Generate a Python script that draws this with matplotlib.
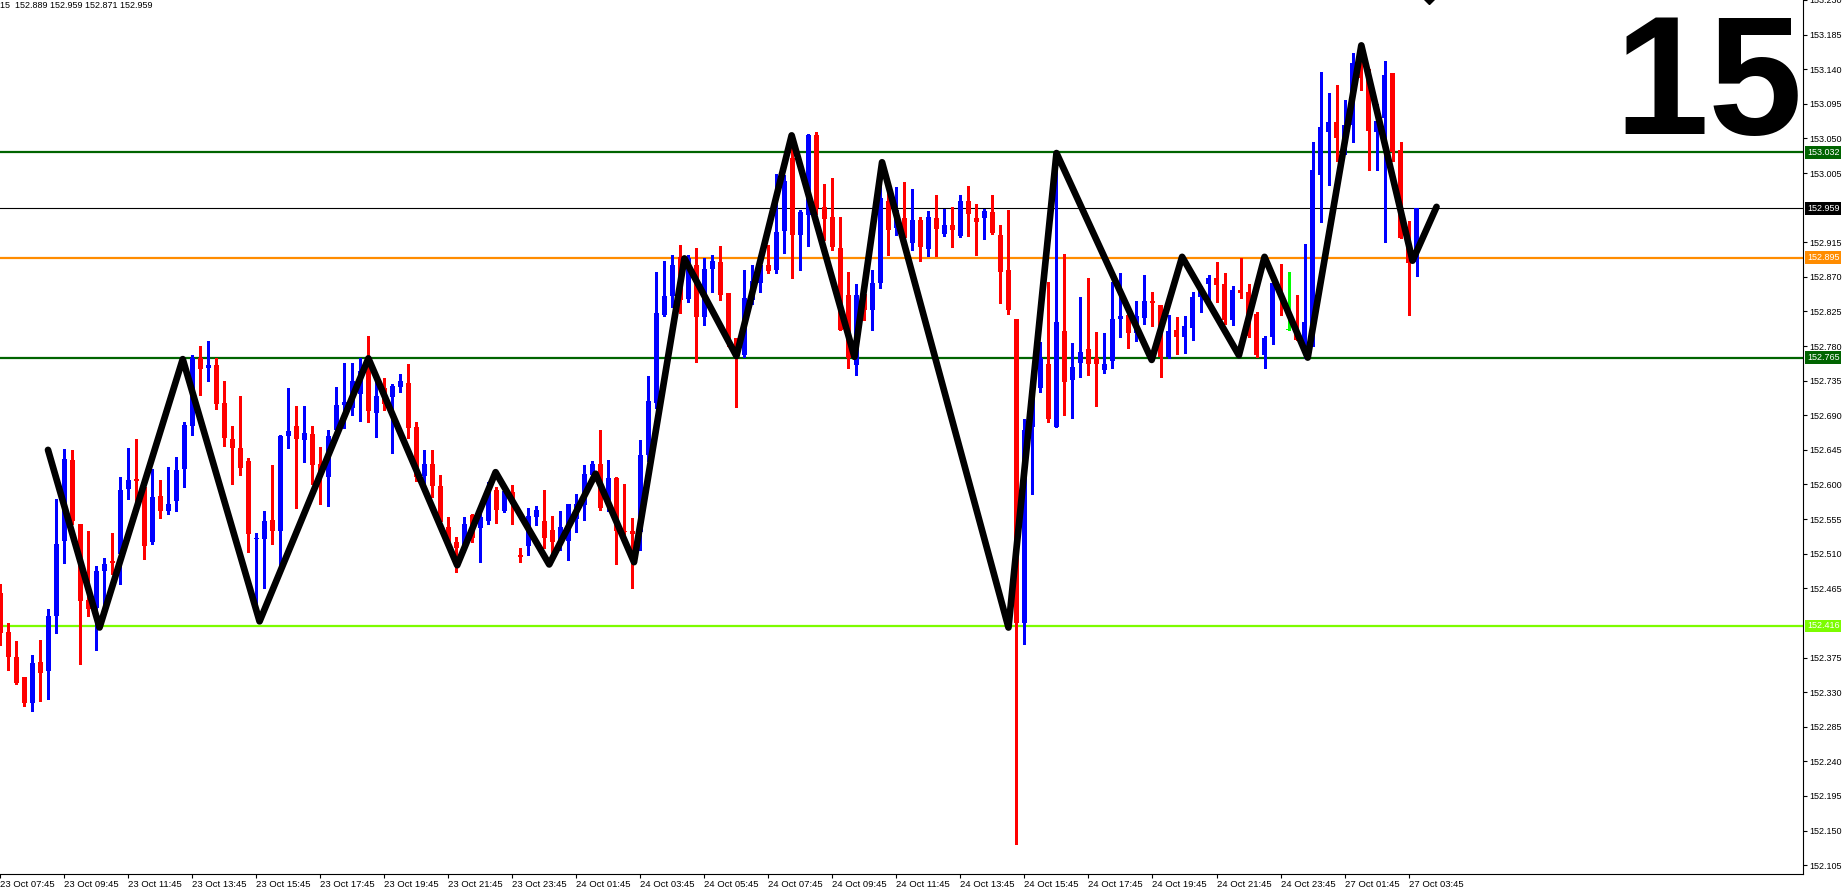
import numpy as np
import matplotlib
matplotlib.use("Agg")
import matplotlib.pyplot as plt
from matplotlib.transforms import blended_transform_factory

# M15 candles, one row per bar (open, high, low, close)
opens = [152.459, 152.408, 152.376, 152.350, 152.316, 152.369, 152.357, 152.429, 152.527, 152.632,
         152.549, 152.450, 152.439, 152.488, 152.501, 152.510, 152.594, 152.607, 152.597, 152.525,
         152.585, 152.566, 152.578, 152.620, 152.676, 152.764, 152.751, 152.756, 152.706, 152.659,
         152.648, 152.630, 152.529, 152.529, 152.554, 152.539, 152.663, 152.676, 152.658, 152.666,
         152.627, 152.610, 152.671, 152.704, 152.700, 152.718, 152.747, 152.693, 152.725, 152.714,
         152.727, 152.732, 152.675, 152.611, 152.626, 152.598, 152.545, 152.525, 152.517, 152.560,
         152.544, 152.553, 152.593, 152.566, 152.590, 152.508, 152.520, 152.558, 152.552, 152.541,
         152.525, 152.527, 152.555, 152.573, 152.612, 152.626, 152.575, 152.609, 152.540, 152.540,
         152.538, 152.638, 152.706, 152.820, 152.845, 152.896, 152.841, 152.885, 152.818, 152.880,
         152.889, 152.849, 152.790, 152.769, 152.840, 152.862, 152.885, 152.879, 152.930, 153.024,
         152.925, 152.951, 153.055, 152.961, 152.948, 152.908, 152.846, 152.756, 152.848, 152.827,
         152.862, 152.969, 152.933, 152.947, 152.914, 152.944, 152.906, 152.947, 152.926, 152.937,
         152.923, 152.968, 152.946, 152.946, 152.954, 152.925, 152.879, 152.815, 152.420, 152.675,
         152.726, 152.757, 152.675, 152.800, 152.736, 152.758, 152.776, 152.764, 152.749, 152.760,
         152.815, 152.821, 152.797, 152.817, 152.839, 152.834, 152.766, 152.801, 152.792, 152.804,
         152.844, 152.861, 152.868, 152.861, 152.814, 152.853, 152.850, 152.822, 152.769, 152.792,
         152.861, 152.801, 152.806, 152.787, 152.788, 153.003, 153.058, 153.071, 153.040, 153.067,
         153.147, 153.132, 153.058, 153.077, 153.135, 153.035, 152.922, 152.889]
highs = [152.471, 152.420, 152.396, 152.350, 152.378, 152.398, 152.438, 152.581, 152.646, 152.645,
         152.549, 152.539, 152.494, 152.505, 152.537, 152.610, 152.648, 152.659, 152.597, 152.620,
         152.606, 152.623, 152.636, 152.681, 152.769, 152.780, 152.787, 152.764, 152.734, 152.676,
         152.715, 152.635, 152.537, 152.565, 152.625, 152.665, 152.726, 152.702, 152.702, 152.676,
         152.649, 152.671, 152.727, 152.758, 152.758, 152.764, 152.793, 152.738, 152.738, 152.731,
         152.744, 152.757, 152.681, 152.645, 152.645, 152.612, 152.558, 152.532, 152.558, 152.562,
         152.562, 152.603, 152.597, 152.593, 152.599, 152.517, 152.569, 152.572, 152.593, 152.559,
         152.565, 152.575, 152.588, 152.625, 152.630, 152.671, 152.632, 152.610, 152.600, 152.556,
         152.658, 152.741, 152.876, 152.890, 152.898, 152.912, 152.899, 152.908, 152.895, 152.899,
         152.910, 152.849, 152.790, 152.879, 152.885, 152.896, 152.911, 153.004, 153.002, 153.052,
         152.957, 153.056, 153.059, 152.991, 152.998, 152.948, 152.876, 152.861, 152.850, 152.879,
         153.019, 152.986, 152.987, 152.993, 152.984, 152.948, 152.955, 152.977, 152.958, 152.961,
         152.976, 152.988, 152.965, 152.958, 152.977, 152.937, 152.957, 152.815, 152.685, 152.738,
         152.785, 152.863, 153.032, 152.900, 152.784, 152.844, 152.869, 152.798, 152.797, 152.863,
         152.875, 152.833, 152.838, 152.872, 152.850, 152.834, 152.821, 152.818, 152.819, 152.850,
         152.858, 152.872, 152.889, 152.875, 152.858, 152.894, 152.861, 152.824, 152.793, 152.865,
         152.887, 152.876, 152.846, 152.913, 153.046, 153.136, 153.109, 153.119, 153.100, 153.161,
         153.171, 153.140, 153.095, 153.151, 153.135, 153.046, 152.943, 152.959]
lows = [152.391, 152.359, 152.341, 152.312, 152.306, 152.319, 152.321, 152.407, 152.498, 152.548,
        152.367, 152.429, 152.385, 152.441, 152.484, 152.471, 152.581, 152.562, 152.503, 152.522,
        152.557, 152.561, 152.565, 152.597, 152.665, 152.716, 152.735, 152.698, 152.650, 152.600,
        152.612, 152.512, 152.432, 152.465, 152.523, 152.493, 152.647, 152.569, 152.629, 152.601,
        152.575, 152.572, 152.668, 152.673, 152.690, 152.683, 152.681, 152.662, 152.697, 152.641,
        152.720, 152.660, 152.605, 152.601, 152.584, 152.545, 152.520, 152.486, 152.512, 152.525,
        152.499, 152.548, 152.550, 152.564, 152.549, 152.499, 152.508, 152.547, 152.517, 152.510,
        152.515, 152.502, 152.538, 152.554, 152.605, 152.567, 152.565, 152.496, 152.536, 152.465,
        152.515, 152.630, 152.700, 152.819, 152.831, 152.823, 152.837, 152.759, 152.807, 152.850,
        152.840, 152.780, 152.701, 152.766, 152.835, 152.850, 152.875, 152.875, 152.901, 152.869,
        152.879, 152.910, 152.952, 152.918, 152.905, 152.801, 152.752, 152.742, 152.814, 152.801,
        152.855, 152.899, 152.925, 152.910, 152.905, 152.891, 152.897, 152.897, 152.923, 152.909,
        152.922, 152.923, 152.898, 152.919, 152.926, 152.836, 152.822, 152.132, 152.392, 152.587,
        152.720, 152.681, 152.675, 152.691, 152.687, 152.740, 152.742, 152.702, 152.745, 152.752,
        152.792, 152.778, 152.786, 152.809, 152.806, 152.740, 152.764, 152.770, 152.771, 152.788,
        152.824, 152.837, 152.837, 152.809, 152.807, 152.842, 152.792, 152.766, 152.752, 152.783,
        152.820, 152.801, 152.788, 152.765, 152.780, 152.941, 152.990, 153.020, 153.030, 153.045,
        153.113, 153.009, 153.009, 152.915, 153.020, 152.920, 152.821, 152.871]
closes = [152.407, 152.376, 152.342, 152.316, 152.368, 152.355, 152.429, 152.523, 152.633, 152.552,
          152.448, 152.438, 152.488, 152.497, 152.498, 152.593, 152.606, 152.604, 152.520, 152.584,
          152.565, 152.574, 152.619, 152.677, 152.764, 152.750, 152.755, 152.705, 152.661, 152.648,
          152.622, 152.536, 152.530, 152.552, 152.539, 152.663, 152.669, 152.659, 152.667, 152.625,
          152.610, 152.663, 152.704, 152.707, 152.735, 152.747, 152.696, 152.715, 152.705, 152.728,
          152.734, 152.673, 152.610, 152.627, 152.598, 152.551, 152.525, 152.517, 152.548, 152.530,
          152.558, 152.597, 152.567, 152.592, 152.575, 152.506, 152.559, 152.567, 152.531, 152.525,
          152.545, 152.574, 152.575, 152.613, 152.626, 152.570, 152.609, 152.540, 152.538, 152.535,
          152.638, 152.708, 152.823, 152.845, 152.886, 152.840, 152.894, 152.818, 152.880, 152.890,
          152.846, 152.788, 152.766, 152.843, 152.864, 152.885, 152.878, 152.928, 152.995, 152.924,
          152.954, 153.055, 152.959, 152.945, 152.909, 152.801, 152.765, 152.847, 152.827, 152.862,
          152.972, 152.931, 152.957, 152.920, 152.944, 152.909, 152.948, 152.932, 152.937, 152.931,
          152.968, 152.952, 152.941, 152.955, 152.927, 152.876, 152.827, 152.420, 152.671, 152.725,
          152.764, 152.685, 152.811, 152.733, 152.753, 152.772, 152.757, 152.757, 152.757, 152.815,
          152.819, 152.797, 152.819, 152.838, 152.836, 152.766, 152.800, 152.792, 152.806, 152.844,
          152.855, 152.868, 152.859, 152.814, 152.853, 152.849, 152.793, 152.768, 152.791, 152.862,
          152.844, 152.801, 152.788, 152.811, 153.009, 153.065, 153.071, 153.050, 153.067, 153.148,
          153.128, 153.060, 153.073, 153.133, 153.032, 152.920, 152.888, 152.959]

# zigzag turning points (bar position, price)
zigzag_bar = [5.96, 12.4, 22.8, 32.4, 46.0, 57.1, 61.9, 68.6, 74.4, 79.2, 85.5, 92.0, 98.9,
              106.75, 110.2, 126.0, 132.0, 143.9, 147.7, 154.8, 158.0, 163.4, 170.1, 176.5, 179.5]
zigzag_price = [152.645, 152.414, 152.763, 152.422, 152.764, 152.495, 152.616, 152.496, 152.614,
                152.499, 152.894, 152.767, 153.054, 152.766, 153.019, 152.414, 153.031, 152.762,
                152.896, 152.768, 152.896, 152.765, 153.171, 152.891, 152.961]

# horizontal levels
level_prices = [153.032, 152.959, 152.895, 152.765, 152.416]
level_labels = ["153.032", "152.959", "152.895", "152.765", "152.416"]

# small arrow object at the top edge (bar position, price)
arrow_bar = 178.6
arrow_price = 153.232

time_labels = ["23 Oct 07:45", "23 Oct 09:45", "23 Oct 11:45", "23 Oct 13:45", "23 Oct 15:45",
               "23 Oct 17:45", "23 Oct 19:45", "23 Oct 21:45", "23 Oct 23:45", "24 Oct 01:45",
               "24 Oct 03:45", "24 Oct 05:45", "24 Oct 07:45", "24 Oct 09:45", "24 Oct 11:45",
               "24 Oct 13:45", "24 Oct 15:45", "24 Oct 17:45", "24 Oct 19:45", "24 Oct 21:45",
               "24 Oct 23:45", "27 Oct 01:45", "27 Oct 03:45"]
bars_per_label = 8

header = "15  152.889 152.959 152.871 152.959"
period_text = "15"

# styles
bull_color = "#0000FF"
bear_color = "#FF0000"
doji_color = "#00FF00"
level_colors = ["#006400", "#000000", "#FF8C00", "#006400", "#7CFC00"]
level_widths = [1.6, 0.8, 1.6, 1.6, 1.6]

W, H, DPI = 1848, 891, 100
fig = plt.figure(figsize=(W / DPI, H / DPI), dpi=DPI)
ax = fig.add_axes([0, 1 - 874 / H, 1803 / W, 874 / H])

o = np.array(opens)
h = np.array(highs)
l = np.array(lows)
c = np.array(closes)
idx = np.arange(len(o))

colors = np.where(c > o, bull_color, np.where(c < o, bear_color, doji_color))

# levels under the candles
for p, col, lw in zip(level_prices, level_colors, level_widths):
    ax.axhline(p, color=col, lw=lw, zorder=1)

ax.vlines(idx, l, h, colors=colors, lw=0.8, zorder=2, antialiased=False)
body_low = np.minimum(o, c)
body_h = np.maximum(np.abs(c - o), 0.0013)
ax.bar(idx, body_h, bottom=body_low, width=0.6, color=colors, linewidth=0,
       zorder=3, antialiased=False)

ax.plot(zigzag_bar, zigzag_price, color="black", lw=4.8, solid_joinstyle="round",
        solid_capstyle="round", zorder=5)

ax.plot([arrow_bar], [arrow_price], marker="D", markersize=6, color="black",
        linestyle="none", zorder=6)

ax.set_xlim(-0.04, 225.3)
ax.set_ylim(152.0935, 153.2294)

for side in ["left", "top"]:
    ax.spines[side].set_visible(False)
ax.spines["right"].set_linewidth(0.8)
ax.spines["bottom"].set_linewidth(0.8)

# price scale on the right, hide values under the level boxes
yt = np.round(np.arange(152.105, 153.2301, 0.045), 3)
yt = [v for v in yt if min(abs(v - p) for p in level_prices) > 0.006]
ax.yaxis.tick_right()
ax.set_yticks(yt)
ax.set_yticklabels([f"{v:.3f}" for v in yt])
ax.tick_params(axis="y", direction="out", length=3, width=0.8, pad=1.5,
               labelsize=6.5, labelfontfamily="Liberation Sans")

xt = [i * bars_per_label for i in range(len(time_labels))]
ax.set_xticks(xt)
ax.set_xticklabels(time_labels)
ax.tick_params(axis="x", direction="out", length=3, width=0.8, pad=1.0,
               labelsize=6.8, labelfontfamily="Liberation Sans")
for t in ax.get_xticklabels():
    t.set_horizontalalignment("left")

trans = blended_transform_factory(fig.transFigure, ax.transData)
for p, txt, col in zip(level_prices, level_labels, level_colors):
    ax.text(1807 / W, p, txt, transform=trans, ha="left", va="center", color="white",
            fontsize=6.5, family="Liberation Sans", clip_on=False,
            bbox=dict(boxstyle="square,pad=0.2", fc=col, ec="none"))

fig.text(1803 / W, 1 - 11 / H, period_text, ha="right", va="top", fontsize=122,
         fontweight="bold", family="Liberation Sans", color="black")
fig.text(0.0, 1 - 6 / H, header, ha="left", va="center", fontsize=6.5,
         family="Liberation Sans", color="black")

fig.savefig("out.png", dpi=DPI, facecolor="white")
